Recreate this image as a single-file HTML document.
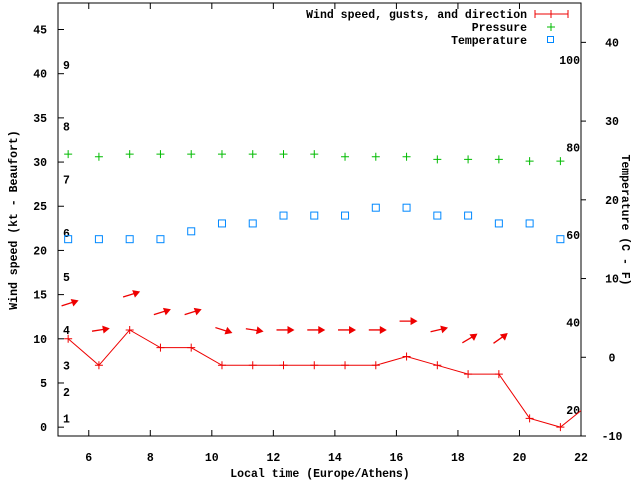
<!DOCTYPE html>
<html><head><meta charset="utf-8"><style>
body{margin:0;background:#fff}
svg{display:block}
text{font-family:"Liberation Mono",monospace;font-weight:bold;font-size:11.5px;fill:#000}
</style></head><body>
<svg id="chart" width="640" height="480" xmlns="http://www.w3.org/2000/svg">
<rect x="0" y="0" width="640" height="480" fill="#fff"/>
<g id="axes"></g>
<g id="marks"></g>
<text x="17" y="220" transform="rotate(-90 17 220)" text-anchor="middle">Wind speed (kt - Beaufort)</text>
<text x="622" y="220" transform="rotate(90 622 220)" text-anchor="middle">Temperature (C - F)</text>
<text x="320" y="477" text-anchor="middle">Local time (Europe/Athens)</text>
<g>
<text x="527" y="18" text-anchor="end">Wind speed, gusts, and direction</text>
<line x1="535" y1="14" x2="568" y2="14" stroke="#e00" stroke-width="1"/>
<line x1="535" y1="10" x2="535" y2="18" stroke="#e00"/><line x1="568" y1="10" x2="568" y2="18" stroke="#e00"/><line x1="551" y1="10" x2="551" y2="18" stroke="#e00"/>
<text x="527" y="31" text-anchor="end">Pressure</text>
<path d="M547 27h8M551 23v8" stroke="#0b0"/>
<text x="527" y="44" text-anchor="end">Temperature</text>
<rect x="547.5" y="36.5" width="6" height="6" fill="none" stroke="#08f"/>
</g>
</svg>
<script>
const times=[5.33,6.33,7.33,8.33,9.33,10.33,11.33,12.33,13.33,14.33,15.33,16.33,17.33,18.33,19.33,20.33,21.33,22.33];
const windSpeed=[10,7,11,9,9,7,7,7,7,7,7,8,7,6,6,1,0,2.8];
const gusts=[14,11,15,13,13,11,11,11,11,11,11,12,11,10,10];
const windAngle=[20,10,20,20,20,-20,-10,0,0,0,0,0,15,35,40];
const pressure=[30.9,30.6,30.9,30.9,30.9,30.9,30.9,30.9,30.9,30.6,30.6,30.6,30.3,30.3,30.3,30.1,30.1];
const temperature=[15,15,15,15,16,17,17,18,18,18,19,19,18,18,17,17,15];
const xTicks=[6,8,10,12,14,16,18,20,22];
const yTicks=[0,5,10,15,20,25,30,35,40,45];
const y2Ticks=[-10,0,10,20,30,40];
const fTicks=[20,40,60,80,100];
const beaufortLabels=[1,2,3,4,5,6,7,8,9];
const beaufortKt=[1,4,7,11,17,22,28,34,41];

const L=58,R=581,T=3,B=436;
const X=v=>L+(v-5)/(22-5)*(R-L);
const Y=v=>B-(v+1)/(48+1)*(B-T);
const Y2=v=>B-(v+10)/(45+10)*(B-T);
const NS="http://www.w3.org/2000/svg";
function mk(tag,attrs,parent,txt){const e=document.createElementNS(NS,tag);for(const k in attrs)e.setAttribute(k,attrs[k]);if(txt!==undefined)e.textContent=txt;parent.appendChild(e);return e;}
const axes=document.getElementById('axes'),marks=document.getElementById('marks');
const frame=mk('rect',{x:L,y:T,width:R-L,height:B-T,fill:'none',stroke:'#000'},axes);


xTicks.forEach(v=>{const x=X(v);
 mk('line',{x1:x,y1:B,x2:x,y2:B-6,stroke:'#000'},axes);
 mk('line',{x1:x,y1:T,x2:x,y2:T+6,stroke:'#000'},axes);
 const t=mk('text',{x:x,y:461,'text-anchor':'middle'},axes,String(v));
 
 });
yTicks.forEach(v=>{const y=Y(v);
 mk('line',{x1:L,y1:y,x2:L+6,y2:y,stroke:'#000'},axes);
 const t=mk('text',{x:47,y:y+4,'text-anchor':'end'},axes,String(v));
 
 });
y2Ticks.forEach(v=>{const y=Y2(v);
 mk('line',{x1:R,y1:y,x2:R+5,y2:y,stroke:'#000'},axes);
 const t=mk('text',{x:612,y:y+4,'text-anchor':'middle'},axes,String(v));
 
 });
fTicks.forEach(v=>{const c=(v-32)*5/9;
 const t=mk('text',{x:580,y:Y2(c)+4,'text-anchor':'end'},axes,String(v));
 
 });
beaufortLabels.forEach((b,i)=>{
 const t=mk('text',{x:63,y:Y(beaufortKt[i])+4},axes,String(b));
 
 });
// clip
const defs=mk('defs',{},marks);const cp=mk('clipPath',{id:'clip'},defs);mk('rect',{x:L,y:T,width:R-L,height:B-T},cp);
const g=mk('g',{'clip-path':'url(#clip)'},marks);
// wind line
const pts=windSpeed.map((v,i)=>X(times[i])+','+Y(v)).join(' ');
const wl=mk('polyline',{points:pts,fill:'none',stroke:'#e00','stroke-width':1},g);


windSpeed.forEach((v,i)=>{const x=X(times[i]),y=Y(v);
 const p=mk('path',{d:`M${x-4} ${y}h8M${x} ${y-4}v8`,stroke:'#e00'},g);
 
 });
// arrows
gusts.forEach((v,i)=>{const cx=X(times[i]),cy=Y(v),a=windAngle[i]*Math.PI/180;
 const dx=Math.cos(a),dy=-Math.sin(a),len=14;
 const x1=cx-dx*len/2,y1=cy-dy*len/2,x2=cx+dx*len/2+2,y2=cy+dy*len/2;
 const grp=mk('g',{},g);
 
 
 mk('line',{x1:x1,y1:y1,x2:x2,y2:y2,stroke:'#e00','stroke-width':1.3},grp);
 const hx=x2+dx*2,hy=y2+dy*2,bx=x2-dx*5,by=y2-dy*5,px=-dy*4,py=dx*4;
 mk('polygon',{points:`${hx},${hy} ${bx+px},${by+py} ${bx-px},${by-py}`,fill:'#e00'},grp);});
pressure.forEach((v,i)=>{const x=X(times[i]),y=Y(v);
 const p=mk('path',{d:`M${x-4} ${y}h8M${x} ${y-4}v8`,stroke:'#0b0'},g);
 
 });
temperature.forEach((v,i)=>{const x=X(times[i]),y=Y2(v);
 const r=mk('rect',{x:x-3.5,y:y-3.5,width:7,height:7,fill:'none',stroke:'#08f'},g);
 
 });
</script>
</body></html>
